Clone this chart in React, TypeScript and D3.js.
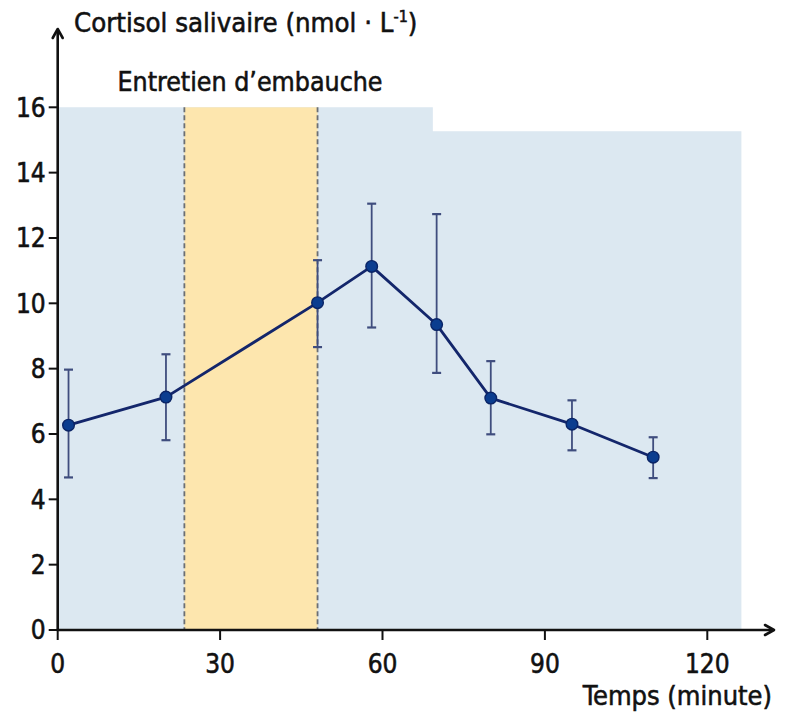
import React from "react";
import * as d3 from "d3";

// Sampling times (minutes) and mean salivary cortisol with error bounds
const times = [2, 20, 48, 58, 70, 80, 95, 110];
const cortisol = [6.27, 7.13, 10.02, 11.13, 9.35, 7.1, 6.3, 5.29];
const errHigh = [7.97, 8.44, 11.32, 13.05, 12.73, 8.23, 7.03, 5.9];
const errLow = [4.67, 5.81, 8.66, 9.26, 7.87, 5.99, 5.5, 4.65];

const xTicks = [0, 30, 60, 90, 120];
const yTicks = [0, 2, 4, 6, 8, 10, 12, 14, 16];

// Interview window and background extent (minutes / nmol·L⁻¹)
const interview = [23.4, 48];
const backgroundEnd = 126.3;
const backgroundStep = 69.3;
const backgroundStepTop = 15.27;

const yLabel = "Cortisol salivaire (nmol · L";
const xLabel = "Temps (minute)";
const bandLabel = "Entretien d\u2019embauche";

const FONT = "'DejaVu Sans Condensed', 'Liberation Sans Narrow', 'DejaVu Sans', sans-serif";
const textStyle = { fontFamily: FONT, fill: "#111", stroke: "#111", strokeWidth: 0.55 };

export default function App() {
  const width = 789;
  const height = 717;
  const x = d3.scaleLinear().domain([0, 120]).range([57.7, 707.3]);
  const y = d3.scaleLinear().domain([0, 16]).range([630, 107.3]);

  const pts = times.map((t, i) => ({ t, v: cortisol[i], hi: errHigh[i], lo: errLow[i] }));
  const line = d3
    .line<{ t: number; v: number }>()
    .x((d) => x(d.t))
    .y((d) => y(d.v));

  const bgPath =
    [
      [0, 16],
      [backgroundStep, 16],
      [backgroundStep, backgroundStepTop],
      [backgroundEnd, backgroundStepTop],
      [backgroundEnd, 0],
      [0, 0],
    ]
      .map(([a, b], i) => `${i ? "L" : "M"}${x(a)},${y(b)}`)
      .join("") + "Z";

  const x0 = x(0);
  const y0 = y(0);
  const axisColor = "#111";

  return (
    <div style={{ position: "absolute", left: 0, top: 0 }}>
      <svg width={width} height={height} style={{ display: "block", background: "#fff" }}>
        {/* background and interview window */}
        <path d={bgPath} fill="#dce8f1" />
        <rect
          x={x(interview[0])}
          y={y(16)}
          width={x(interview[1]) - x(interview[0])}
          height={y(0) - y(16)}
          fill="#fde6ae"
        />
        {interview.map((t, i) => (
          <line
            key={i}
            x1={x(t)}
            x2={x(t)}
            y1={y(16)}
            y2={y(0)}
            stroke="#6b6f74"
            strokeWidth={1.8}
            strokeDasharray="5,3"
          />
        ))}

        {/* axes */}
        <line x1={x0} x2={x0} y1={y0 + 1} y2={30} stroke={axisColor} strokeWidth={2.6} />
        <path d={`M${x0 - 5},${38} L${x0},${29} L${x0 + 5},${38}`} fill="none" stroke={axisColor} strokeWidth={2.6} strokeLinecap="round" strokeLinejoin="round" />
        <line x1={x0 - 1} x2={773} y1={y0} y2={y0} stroke={axisColor} strokeWidth={2.6} />
        <path d={`M${765},${y0 - 5} L${774},${y0} L${765},${y0 + 5}`} fill="none" stroke={axisColor} strokeWidth={2.6} strokeLinecap="round" strokeLinejoin="round" />

        {yTicks.map((v) => (
          <g key={v} transform={`translate(0,${y(v)})`}>
            <line x1={x0 - 9} x2={x0} stroke={axisColor} strokeWidth={2} />
            <text x={x0 - 12} dy="0.36em" textAnchor="end" fontSize={26} style={textStyle}>
              {v}
            </text>
          </g>
        ))}
        {xTicks.map((t) => (
          <g key={t} transform={`translate(${x(t)},0)`}>
            <line y1={y0} y2={y0 + 10} stroke={axisColor} strokeWidth={2} />
            <text y={673} textAnchor="middle" fontSize={26} style={textStyle}>
              {t}
            </text>
          </g>
        ))}

        {/* labels */}
        <text x={74} y={32} fontSize={27.3} style={textStyle}>
          {yLabel}
          <tspan fontSize={16} dy={-10}>-1</tspan>
          <tspan dy={10}>)</tspan>
        </text>
        <text x={250} y={91} textAnchor="middle" fontSize={26.5} style={textStyle}>
          {bandLabel}
        </text>
        <text x={772} y={705} textAnchor="end" fontSize={27} style={textStyle}>
          {xLabel}
        </text>

        {/* error bars */}
        {pts.map((d, i) => (
          <g key={i} stroke="#3f4d7e" strokeWidth={1.8}>
            <line x1={x(d.t)} x2={x(d.t)} y1={y(d.hi)} y2={y(d.lo)} />
            <line x1={x(d.t) - 4.5} x2={x(d.t) + 4.5} y1={y(d.hi)} y2={y(d.hi)} strokeWidth={2.2} />
            <line x1={x(d.t) - 4.5} x2={x(d.t) + 4.5} y1={y(d.lo)} y2={y(d.lo)} strokeWidth={2.2} />
          </g>
        ))}

        {/* mean curve */}
        <path d={line(pts) || ""} fill="none" stroke="#13266b" strokeWidth={2.8} strokeLinejoin="round" />
        {pts.map((d, i) => (
          <circle key={i} cx={x(d.t)} cy={y(d.v)} r={5.8} fill="#0b3d8f" stroke="#0a2466" strokeWidth={1.4} />
        ))}
      </svg>
    </div>
  );
}
